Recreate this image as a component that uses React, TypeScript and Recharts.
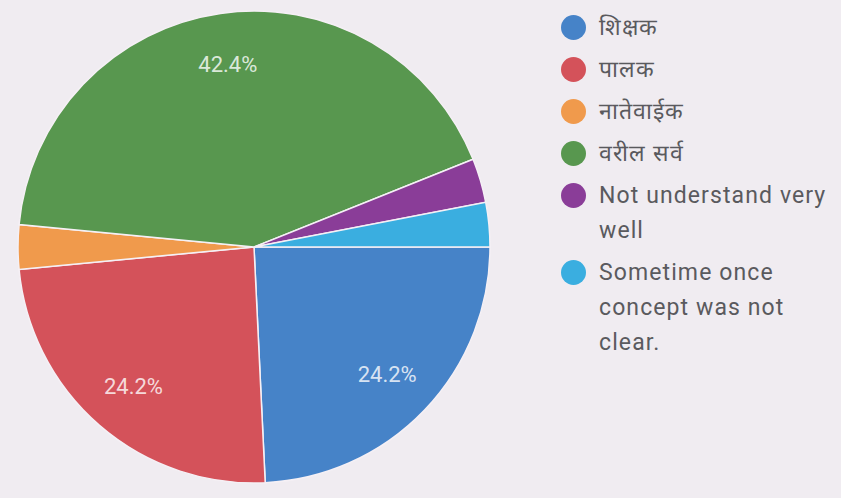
import React from "react";
import { PieChart, Pie, Cell, Legend } from "recharts";

const categories = [
  "शिक्षक",
  "पालक",
  "नातेवाईक",
  "वरील सर्व",
  "Not understand very well",
  "Sometime once concept was not clear.",
];
const counts = [8, 8, 1, 14, 1, 1];
const colors = ["#4683c8", "#d4525a", "#f09a4c", "#58974f", "#8a3d98", "#3aaee0"];

const data = categories.map((name, i) => ({ name, value: counts[i] }));
const total = counts.reduce((a, b) => a + b, 0);

const RAD = Math.PI / 180;
const renderLabel = (props: any) => {
  const { cx, cy, midAngle, outerRadius, value } = props;
  const pct = (value / total) * 100;
  if (pct < 5) return null;
  const r = outerRadius * 0.78;
  const x = cx + r * Math.cos(-midAngle * RAD);
  const y = cy + r * Math.sin(-midAngle * RAD);
  return (
    <text
      x={x}
      y={y}
      fill="#ffffff"
      fillOpacity={0.8}
      textAnchor="middle"
      dominantBaseline="central"
      fontFamily="Roboto, Arial, sans-serif"
      fontSize={22}
    >
      {pct.toFixed(1) + "%"}
    </text>
  );
};

const renderLegend = () => {
  return (
    <ul style={{ listStyle: "none", margin: 0, padding: 0 }}>
      {categories.map((name, i) => (
        <li
          key={i}
          style={{
            display: "flex",
            alignItems: "flex-start",
            marginBottom: 7,
            fontFamily: "Roboto, Arial, sans-serif",
            fontSize: 23,
            lineHeight: "35px",
            color: "#5a5a5e",
            letterSpacing: 1.1,
          }}
        >
          <span
            style={{
              display: "inline-block",
              width: 25,
              height: 25,
              borderRadius: 13,
              background: colors[i],
              marginTop: 5,
              marginRight: 13,
              flex: "0 0 auto",
            }}
          />
          <span style={{ width: 240 }}>{name}</span>
        </li>
      ))}
    </ul>
  );
};

export default function App() {
  return (
    <div
      style={{
        position: "absolute",
        left: 0,
        top: 0,
        width: 841,
        height: 498,
        background: "#f0ecf1",
        overflow: "hidden",
      }}
    >
      <PieChart width={841} height={498}>
        <Pie
          data={data}
          dataKey="value"
          nameKey="name"
          cx={249}
          cy={242}
          outerRadius={236}
          startAngle={0}
          endAngle={-360}
          stroke="#f5f0f5"
          strokeWidth={1.5}
          label={renderLabel}
          labelLine={false}
          isAnimationActive={false}
        >
          {data.map((d, i) => (
            <Cell key={d.name} fill={colors[i]} />
          ))}
        </Pie>
        <Legend
          layout="vertical"
          align="right"
          verticalAlign="top"
          content={renderLegend}
          wrapperStyle={{ left: 561, top: 10, width: 280 }}
        />
      </PieChart>
    </div>
  );
}
